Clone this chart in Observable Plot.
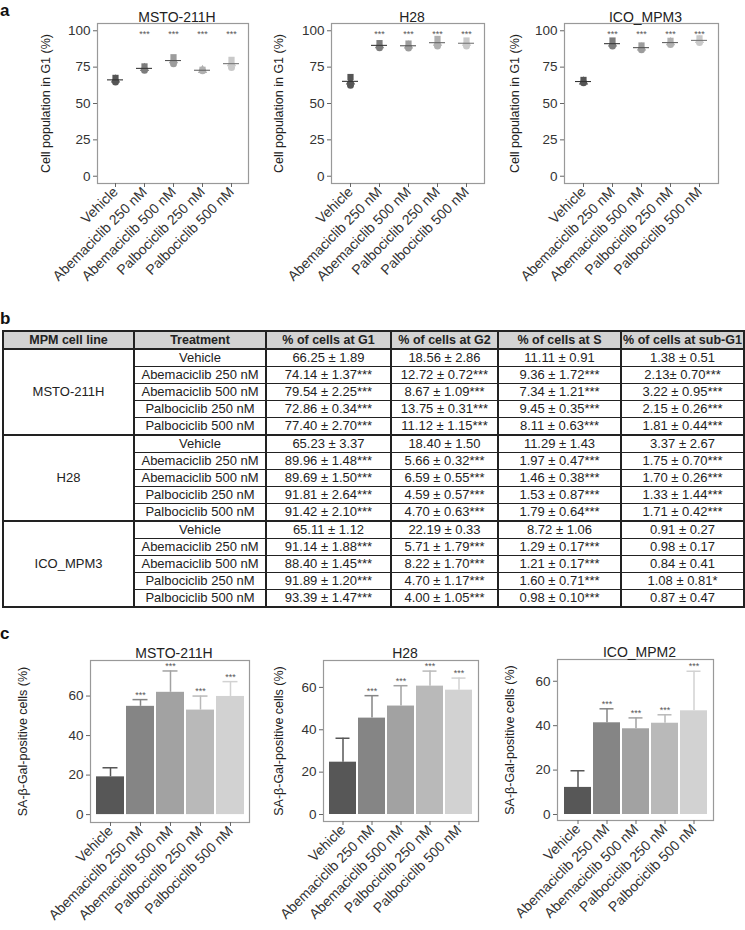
<!DOCTYPE html>
<html><head><meta charset="utf-8">
<script src="https://cdn.jsdelivr.net/npm/d3@7"></script>
<script src="https://cdn.jsdelivr.net/npm/@observablehq/plot@0.6"></script>
<style>
html,body{margin:0;padding:0;background:#fff;}
#fig{position:relative;width:745px;height:930px;overflow:hidden;font-family:"Liberation Sans",Arial,Helvetica,sans-serif;color:#222;background:#fff;}
.letter{position:absolute;left:0;font-weight:bold;font-size:17px;line-height:17px;color:#111;}
table.t{position:absolute;left:2px;top:330px;border-collapse:collapse;table-layout:fixed;width:741px;font-size:13px;color:#222;border:2.5px solid #222;}
table.t td,table.t th{border-top:1px solid #222;border-bottom:1px solid #222;border-left:2px solid #222;border-right:2px solid #222;padding:0;text-align:center;height:16px;line-height:16px;white-space:nowrap;overflow:hidden;}
table.t th{background:#d3d3d3;font-weight:bold;font-size:12.5px;border-bottom:2px solid #222;}
table.t tr.grp td{border-top:2px solid #222;}
</style>
</head><body>
<div id="fig">
  <div class="letter" style="top:2px">a</div>
  <div class="letter" style="top:310px">b</div>
  <div class="letter" style="top:625px">c</div>
</div>
<script>
// ---------- shared categories ----------
const treatments = ["Vehicle","Abemaciclib 250 nM","Abemaciclib 500 nM","Palbociclib 250 nM","Palbociclib 500 nM"];
const replicateShapes = ["circle","triangle","square"];
const pointColors = ["#555555","#7c7c7c","#9c9c9c","#b0b0b0","#c9c9c9"];
const meanColors  = ["#333333","#3a3a3a","#555555","#666666","#777777"];
const barColors   = ["#575757","#858585","#a2a2a2","#b9b9b9","#d2d2d2"];
const starsA = ["","***","***","***","***"];
const starsC = ["","***","***","***","***"];
const starYA = 98;

// ---------- panel a : replicate G1 values ----------
const g1RepsMSTO = [[64.8,66.3,67.6],[72.8,74.2,75.5],[77.4,79.5,81.8],[72.5,72.9,73.2],[74.8,77.5,80.0]];
const g1RepsH28  = [[62.5,65.0,68.2],[88.4,89.9,91.5],[88.2,89.7,91.2],[89.5,91.5,94.4],[89.5,91.5,93.3]];
const g1RepsICO  = [[64.2,65.0,66.2],[89.6,91.0,93.3],[87.0,88.3,89.9],[90.6,91.9,93.1],[91.9,93.4,94.8]];

// ---------- panel b : table ----------
const cellLines = ["MSTO-211H","H28","ICO_MPM3"];
const tableHeader = ["MPM cell line","Treatment","% of cells at G1","% of cells at G2","% of cells at S","% of cells at sub-G1"];
const pctG1 = ["66.25 ± 1.89","74.14 ± 1.37***","79.54 ± 2.25***","72.86 ± 0.34***","77.40 ± 2.70***",
               "65.23 ± 3.37","89.96 ± 1.48***","89.69 ± 1.50***","91.81 ± 2.64***","91.42 ± 2.10***",
               "65.11 ± 1.12","91.14 ± 1.88***","88.40 ± 1.45***","91.89 ± 1.20***","93.39 ± 1.47***"];
const pctG2 = ["18.56 ± 2.86","12.72 ± 0.72***","8.67 ± 1.09***","13.75 ± 0.31***","11.12 ± 1.15***",
               "18.40 ± 1.50","5.66 ± 0.32***","6.59 ± 0.55***","4.59 ± 0.57***","4.70 ± 0.63***",
               "22.19 ± 0.33","5.71 ± 1.79***","8.22 ± 1.70***","4.70 ± 1.17***","4.00 ± 1.05***"];
const pctS  = ["11.11 ± 0.91","9.36 ± 1.72***","7.34 ± 1.21***","9.45 ± 0.35***","8.11 ± 0.63***",
               "11.29 ± 1.43","1.97 ± 0.47***","1.46 ± 0.38***","1.53 ± 0.87***","1.79 ± 0.64***",
               "8.72 ± 1.06","1.29 ± 0.17***","1.21 ± 0.17***","1.60 ± 0.71***","0.98 ± 0.10***"];
const pctSubG1 = ["1.38 ± 0.51","2.13± 0.70***","3.22 ± 0.95***","2.15 ± 0.26***","1.81 ± 0.44***",
               "3.37 ± 2.67","1.75 ± 0.70***","1.70 ± 0.26***","1.33 ± 1.44***","1.71 ± 0.42***",
               "0.91 ± 0.27","0.98 ± 0.17","0.84 ± 0.41","1.08 ± 0.81*","0.87 ± 0.47"];

// ---------- panel c : SA-beta-Gal positive cells (mean, upper SD) ----------
const sagMSTO = [19.1,54.8,61.9,52.9,59.8];
const sagMSTOsd = [4.6,3.4,10.8,7.1,7.5];
const sagH28 = [24.7,45.5,51.2,60.6,58.7];
const sagH28sd = [11.3,10.6,9.6,7.1,5.7];
const sagICO = [12.2,41.3,38.6,41.1,46.7];
const sagICOsd = [7.5,6.3,4.9,3.8,17.8];

const yTicksA = [0,25,50,75,100];
const yTicksC = [0,20,40,60];

const fig = document.getElementById("fig");
const FONT = "Liberation Sans, Arial, Helvetica, sans-serif";

function mount(node, left, top){
  node.style.position = "absolute";
  node.style.left = left + "px";
  node.style.top = top + "px";
  node.style.background = "none";
  node.style.maxWidth = "none";
  node.style.overflow = "visible";
  fig.appendChild(node);
}

// ---------- panel a ----------
function panelA(cfg){
  const pts = [];
  treatments.forEach((t,i) => cfg.reps[i].forEach((v,j) => pts.push({t, v, shape: replicateShapes[j], c: pointColors[i]})));
  const means = treatments.map((t,i) => ({t, v: parseFloat(cfg.meanStr[i]), c: meanColors[i], s: starsA[i]}));
  return Plot.plot({
    width: cfg.width, height: 290,
    marginLeft: cfg.ml, marginRight: cfg.mr, marginTop: 23, marginBottom: 107,
    style: {fontFamily: FONT, fontSize: "12px", color: "#333"},
    x: {type: "band", domain: treatments, paddingInner: 0.45, paddingOuter: 0.311},
    y: {domain: [-5, 105]},
    color: {type: "identity"},
    symbol: {domain: replicateShapes, range: replicateShapes},
    marks: [
      Plot.frame({stroke: "#999", strokeWidth: 1.2}),
      Plot.axisY({ticks: yTicksA, tickSize: 4, tickPadding: 3, label: null, stroke: "#666", fontSize: 13.5}),
      Plot.axisX({tickRotate: -45, tickSize: 4, tickPadding: 2, label: null, stroke: "#666", fontSize: 14}),
      Plot.dot(pts, {x: "t", y: "v", symbol: "shape", fill: "c", r: 3.5, stroke: null}),
      Plot.tickY(means, {x: "t", y: "v", stroke: "c", strokeWidth: 1.1}),
      Plot.text(means, {x: "t", y: () => starYA, text: "s", fontSize: 9, fill: "#555"}),
      Plot.text(["Cell population in G1 (%)"], {frameAnchor: "left", textAnchor: "middle", dx: cfg.labelDx, rotate: -90, fontSize: 12.5, fill: "#222"}),
      Plot.text([cfg.title], {frameAnchor: "top", dx: 4, dy: -11, fontSize: 14, fill: "#222"})
    ]
  });
}

const aCfg = [
  {title: "MSTO-211H", reps: g1RepsMSTO, meanStr: pctG1.slice(0,5),  left: 0,   width: 250, ml: 97, mr: 2,  labelDx: -52},
  {title: "H28",       reps: g1RepsH28,  meanStr: pctG1.slice(5,10), left: 245, width: 250, ml: 86, mr: 11, labelDx: -53},
  {title: "ICO_MPM3",  reps: g1RepsICO,  meanStr: pctG1.slice(10,15),left: 490, width: 255, ml: 74, mr: 27, labelDx: -50}
];
aCfg.forEach(cfg => mount(panelA(cfg), cfg.left, 0));

// ---------- panel b (table) ----------
const colWidths = [131,132,125,107,123,123];
const table = document.createElement("table");
table.className = "t";
const cg = document.createElement("colgroup");
colWidths.forEach(w => { const c = document.createElement("col"); c.style.width = w + "px"; cg.appendChild(c); });
table.appendChild(cg);
const hr = document.createElement("tr");
tableHeader.forEach(h => { const th = document.createElement("th"); th.textContent = h; hr.appendChild(th); });
table.appendChild(hr);
for (let r = 0; r < 15; r++) {
  const tr = document.createElement("tr");
  const g = Math.floor(r / 5), k = r % 5;
  if (k === 0 && g > 0) tr.className = "grp";
  if (k === 0) {
    const td = document.createElement("td");
    td.rowSpan = 5; td.textContent = cellLines[g];
    tr.appendChild(td);
  }
  [treatments[k], pctG1[r], pctG2[r], pctS[r], pctSubG1[r]].forEach(v => {
    const td = document.createElement("td"); td.textContent = v; tr.appendChild(td);
  });
  table.appendChild(tr);
}
fig.appendChild(table);

// ---------- panel c ----------
function panelC(cfg){
  const d = treatments.map((t,i) => ({t, m: cfg.mean[i], hi: cfg.mean[i] + cfg.sd[i], c: barColors[i], s: starsC[i]}));
  return Plot.plot({
    width: cfg.width, height: 295,
    marginLeft: cfg.ml, marginRight: cfg.mr, marginTop: cfg.mt, marginBottom: cfg.mb,
    style: {fontFamily: FONT, fontSize: "12px", color: "#333"},
    x: {type: "band", domain: treatments, paddingInner: 0.07, paddingOuter: 0.15},
    y: {domain: cfg.domain},
    color: {type: "identity"},
    marks: [
      Plot.barY(d, {x: "t", y: "m", fill: "c"}),
      Plot.ruleX(d, {x: "t", y1: "m", y2: "hi", stroke: "c", strokeWidth: 1.5}),
      Plot.tickY(d, {x: "t", y: "hi", stroke: "c", strokeWidth: 1.5, insetLeft: 6.5, insetRight: 6.5}),
      Plot.text(d, {x: "t", y: "hi", text: "s", dy: -5, fontSize: 9, fill: "#555"}),
      Plot.frame({stroke: "#999", strokeWidth: 1.2}),
      Plot.axisY({ticks: yTicksC, tickSize: 4, tickPadding: 3, label: null, stroke: "#666", fontSize: 13.5}),
      Plot.axisX({tickRotate: -45, tickSize: 4, tickPadding: 2, label: null, stroke: "#666", fontSize: 14}),
      Plot.text(["SA-β-Gal-positive cells (%)"], {frameAnchor: "left", textAnchor: "middle", dx: cfg.labelDx, rotate: -90, fontSize: 12.5, fill: "#222"}),
      Plot.text([cfg.title], {frameAnchor: "top", dx: 4, dy: -12, fontSize: 14, fill: "#222"})
    ]
  });
}
const cCfg = [
  {title: "MSTO-211H", mean: sagMSTO, sd: sagMSTOsd, domain: [-4, 78],     left: 0,   width: 252, ml: 90, mr: 3,  mt: 25, mb: 108, labelDx: -68},
  {title: "H28",       mean: sagH28,  sd: sagH28sd,  domain: [-3.3, 72.7], left: 245, width: 245, ml: 78, mr: 12, mt: 25, mb: 109, labelDx: -45},
  {title: "ICO_MPM2",  mean: sagICO,  sd: sagICOsd,  domain: [-2.7, 69.8], left: 490, width: 255, ml: 67, mr: 32, mt: 24, mb: 110, labelDx: -48}
];
cCfg.forEach(cfg => mount(panelC(cfg), cfg.left, 635));
</script>
</body></html>
